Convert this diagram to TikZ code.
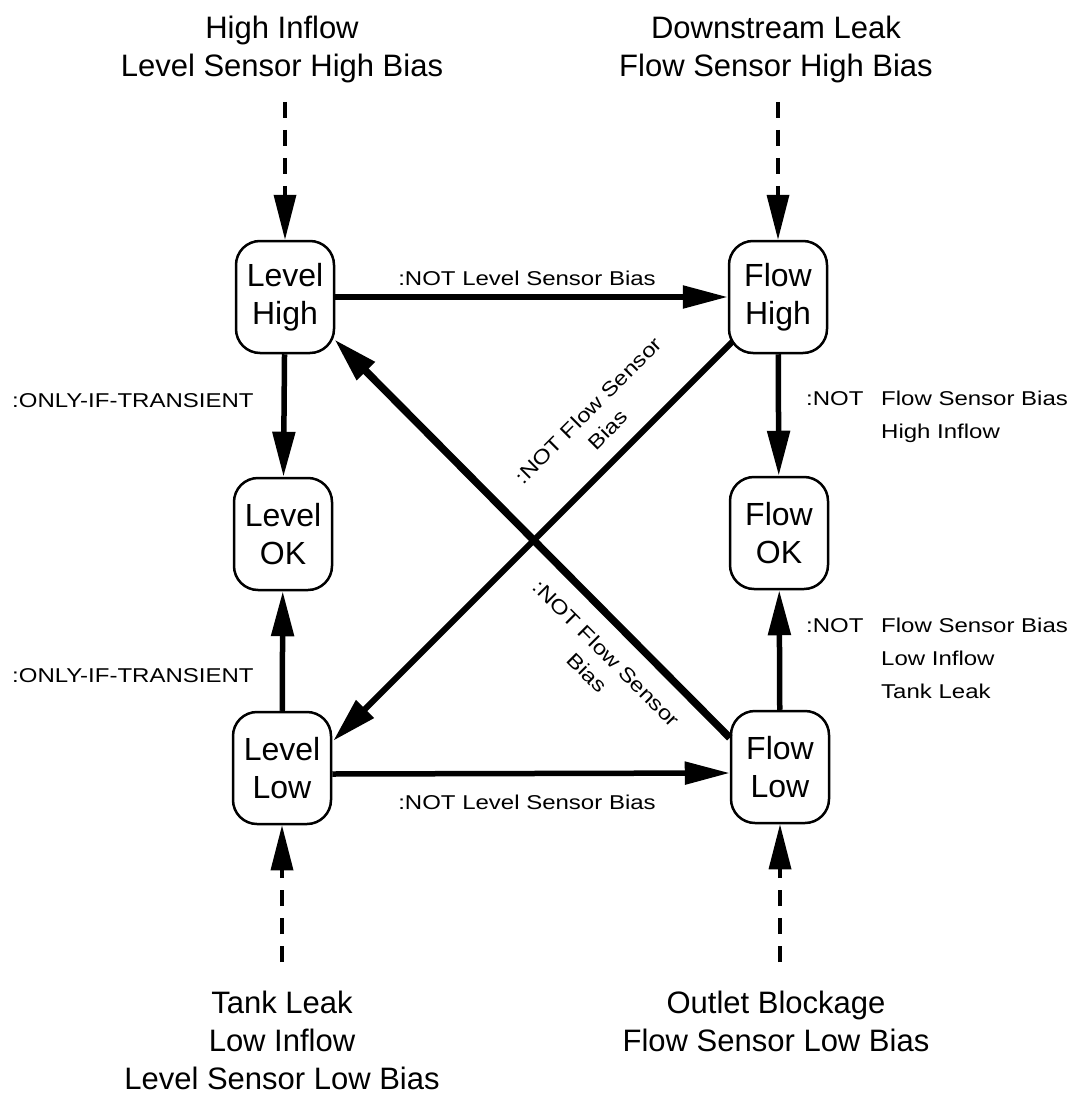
\documentclass[tikz,border=0pt]{standalone}
\usepackage{fontspec}
\setmainfont{Liberation Sans}
\newfontfamily\lblfamily[FakeStretch=1.2]{Liberation Sans}
\usetikzlibrary{arrows.meta}
\newcommand\bigfnt{\fontsize{31}{38}\selectfont}
\newcommand\nodefnt{\fontsize{32}{38}\selectfont}
\newcommand\lblfnt{\lblfamily\fontsize{20}{33}\selectfont}
\newcommand\diagfnt{\lblfamily\fontsize{20}{27}\selectfont}
\begin{document}
\begin{tikzpicture}[x=1pt,y=-1pt,
  state/.style={draw,line width=2.5pt,rounded corners=24pt,minimum width=98pt,minimum height=112pt,align=center,inner sep=0pt,font=\nodefnt},
  big/.style={align=center,inner sep=0pt,font=\bigfnt},
  lbl/.style={inner sep=0pt,font=\lblfnt},
  dlbl/.style={inner sep=0pt,font=\diagfnt,align=center},
  arr/.style={line width=5.5pt,-{Triangle[length=45pt,width=22pt]}},
  diagarr/.style={line width=7.5pt,-{Triangle[length=45pt,width=24pt]}},
  dasharr/.style={line width=3.5pt,dash pattern=on 16pt off 12pt,-{Triangle[length=45pt,width=22pt]}},
]
\useasboundingbox (0,0) rectangle (1077,1094);

% state nodes
\node[state] (LH) at (285,297) {Level\\High};
\node[state] (FH) at (778,297) {Flow\\High};
\node[state] (LO) at (283,534) {Level\\OK};
\node[state] (FO) at (779,533) {Flow\\OK};
\node[state] (LL) at (282,768) {Level\\Low};
\node[state] (FL) at (780,767) {Flow\\Low};

% outer texts
\node[big] (tlt) at (282,49) {High Inflow\\Level Sensor High Bias};
\node[big] (trt) at (776,49) {Downstream Leak\\Flow Sensor High Bias};
\node[big] (blt) at (282,1040) {Tank Leak\\Low Inflow\\Level Sensor Low Bias};
\node[big] (brt) at (776,1021) {Outlet Blockage\\Flow Sensor Low Bias};

% dashed inputs
\coordinate (tl) at (285,102);
\coordinate (tr) at (778,102);
\coordinate (bl) at (282,962);
\coordinate (br) at (780,962);
\draw[dasharr] (tl) -- (LH);
\draw[dasharr] (tr) -- (FH);
\draw[dasharr] (bl) -- (LL);
\draw[dasharr] (br) -- (FL);

% transitions
\draw[arr] (LH) -- (FH);
\draw[arr] ([shift={(0,6)}]LL.east) -- ([shift={(0,6)}]FL.west);
\draw[arr] (LH) -- (LO);
\draw[arr] (LL) -- (LO);
\draw[arr] (FH) -- (FO);
\draw[arr] (FL) -- (FO);
\draw[line width=6pt,-{Triangle[length=45pt,width=24pt]}] ([shift={(5,-13)}]FH.south west) -- ([shift={(1,30)}]LL.north east);
\draw[diagarr] ([shift={(0,28)}]FL.north west) -- ([shift={(-1,-15)}]LH.south east);

% labels
\node[lbl,anchor=base] (l1) at (527,285) {:NOT Level Sensor Bias};
\node[lbl,anchor=base] (l2) at (527,809) {:NOT Level Sensor Bias};
\node[lbl,anchor=base west] (l3) at (12,407) {:ONLY-IF-TRANSIENT};
\node[lbl,anchor=base west] (l4) at (12,682) {:ONLY-IF-TRANSIENT};
\node[lbl,anchor=base west] (l5) at (806,405) {:NOT};
\node[lbl,anchor=north west,align=left] (l6) at (881,391) {Flow Sensor Bias\\High Inflow};
\node[lbl,anchor=base west] (l7) at (806,632) {:NOT};
\node[lbl,anchor=north west,align=left] (l8) at (881,618) {Flow Sensor Bias\\Low Inflow\\Tank Leak};
\node[dlbl,rotate=45] (l9) at (598,420) {:NOT Flow Sensor\\Bias};
\node[dlbl,rotate=-45] (l10) at (597,663) {:NOT Flow Sensor\\Bias};
\end{tikzpicture}
\end{document}
